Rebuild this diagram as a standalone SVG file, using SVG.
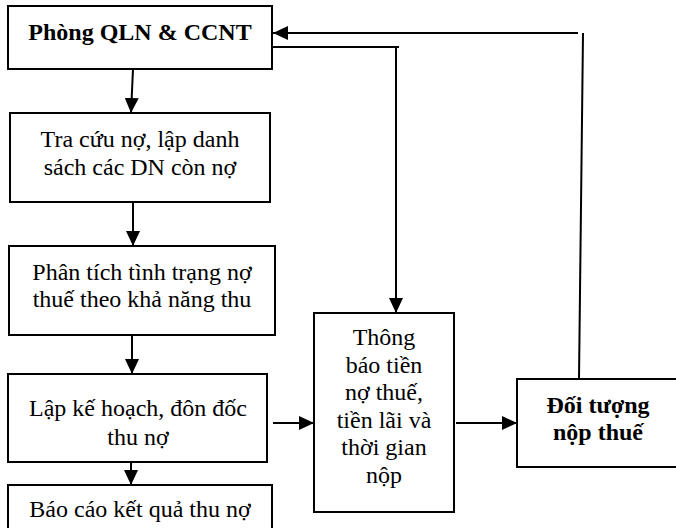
<svg xmlns="http://www.w3.org/2000/svg" width="676" height="528" viewBox="0 0 676 528">
<defs>
<style>
.box{fill:#fff;stroke:#000;stroke-width:2}
.t{font-family:"Liberation Serif","Times New Roman",serif;font-size:24px;fill:#000;text-anchor:middle}
.b{font-weight:bold}
.c{stroke:#000;stroke-width:2;fill:none}
</style>
<marker id="ah" viewBox="0 0 15 14" refX="15" refY="7" markerWidth="15" markerHeight="14" markerUnits="userSpaceOnUse" orient="auto">
<path d="M0,0 L15,7 L0,14 z" fill="#000"/>
</marker>
</defs>
<rect width="676" height="528" fill="#fff"/>
<g id="n1">
<rect class="box" x="8" y="6" width="264" height="63"/>
<text class="t b" x="140" y="40">Phòng QLN &amp; CCNT</text>
</g>
<g id="n2">
<rect class="box" x="10" y="113" width="260" height="89"/>
<text class="t" x="140" y="147">Tra cứu nợ, lập danh</text>
<text class="t" x="140" y="175">sách các DN còn nợ</text>
</g>
<g id="n3">
<rect class="box" x="9" y="246" width="266" height="89"/>
<text class="t" x="142" y="280">Phân tích tình trạng nợ</text>
<text class="t" x="142" y="307">thuế theo khả năng thu</text>
</g>
<g id="n4">
<rect class="box" x="8" y="374" width="259" height="88"/>
<text class="t" x="138" y="416">Lập kế hoạch, đôn đốc</text>
<text class="t" x="138" y="445">thu nợ</text>
</g>
<g id="n5">
<rect class="box" x="8" y="485" width="264" height="60"/>
<text class="t" x="140" y="517">Báo cáo kết quả thu nợ</text>
</g>
<g id="n6">
<rect class="box" x="314" y="313" width="140" height="199"/>
<text class="t" x="384" y="345">Thông</text>
<text class="t" x="384" y="373">báo tiền</text>
<text class="t" x="384" y="400">nợ thuế,</text>
<text class="t" x="384" y="428">tiền lãi và</text>
<text class="t" x="384" y="455">thời gian</text>
<text class="t" x="384" y="483">nộp</text>
</g>
<g id="n7">
<rect class="box" x="517" y="379" width="170" height="88"/>
<text class="t b" x="598" y="413">Đối tượng</text>
<text class="t b" x="598" y="440">nộp thuế</text>
</g>
<g id="connectors">
<line class="c" x1="133" y1="69" x2="131" y2="113" marker-end="url(#ah)"/>
<line class="c" x1="133" y1="202" x2="133" y2="246" marker-end="url(#ah)"/>
<line class="c" x1="132" y1="335" x2="132" y2="374" marker-end="url(#ah)"/>
<line class="c" x1="131" y1="462" x2="131" y2="485" marker-end="url(#ah)"/>
<line class="c" x1="273" y1="423" x2="314" y2="423" marker-end="url(#ah)"/>
<line class="c" x1="456" y1="423" x2="517" y2="423" marker-end="url(#ah)"/>
<line class="c" x1="579" y1="379" x2="583" y2="33"/>
<line class="c" x1="578" y1="33" x2="273" y2="33" marker-end="url(#ah)"/>
<line class="c" x1="272" y1="47" x2="399" y2="47"/>
<line class="c" x1="396" y1="47" x2="396" y2="313" marker-end="url(#ah)"/>
</g>
</svg>
